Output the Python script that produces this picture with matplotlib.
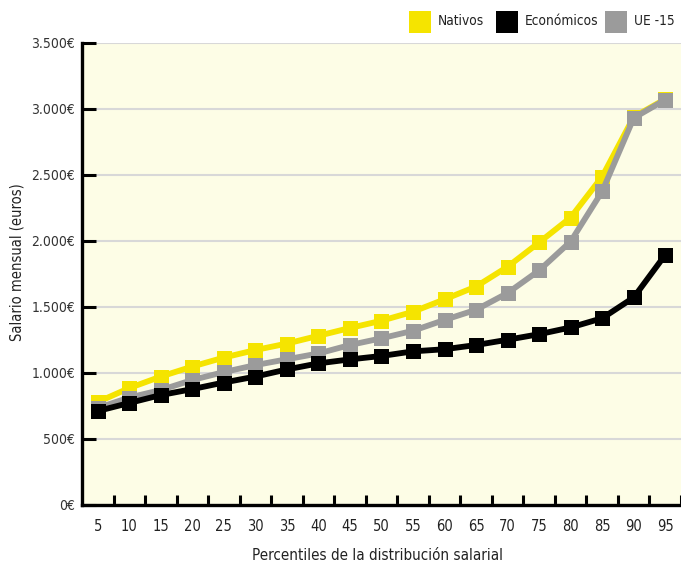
import matplotlib
matplotlib.use("Agg")
import matplotlib.pyplot as plt
from matplotlib.patches import Rectangle
from matplotlib.ticker import FixedLocator, FuncFormatter

plt.rcParams["font.family"] = ["DejaVu Sans"]
plt.rcParams["font.stretch"] = "condensed"

# Monthly salary by percentile of the wage distribution
percentiles = [5, 10, 15, 20, 25, 30, 35, 40, 45, 50, 55, 60, 65, 70, 75, 80, 85, 90, 95]
nativos = [780, 886, 973, 1049, 1117, 1174, 1223, 1282, 1341, 1396, 1464, 1558,
           1655, 1805, 1989, 2178, 2488, 2940, 3075]
ue15 = [735, 814, 871, 947, 1007, 1060, 1104, 1148, 1212, 1263, 1320, 1402,
        1479, 1606, 1777, 1996, 2376, 2932, 3070]
economicos = [712, 773, 833, 878, 928, 973, 1027, 1073, 1103, 1129, 1164, 1180,
              1212, 1252, 1294, 1345, 1415, 1572, 1895]
y_ticks = [0, 500, 1000, 1500, 2000, 2500, 3000, 3500]

YELLOW = "#F5E400"
GREY = "#9B9B9B"
BLACK = "#000000"
BG = "#FDFDE6"

W, H = 681, 567
fig = plt.figure(figsize=(W / 100, H / 100), dpi=100)
ax = fig.add_axes([82 / W, (H - 505) / H, (W - 82) / W, (505 - 43) / H])
ax.set_facecolor(BG)

x = list(range(len(percentiles)))
series = [(nativos, YELLOW, 2), (ue15, GREY, 3), (economicos, BLACK, 4)]
for vals, col, z in series:
    ax.plot(x, vals, color=col, lw=4.2, marker="s", markersize=10.8,
            markeredgewidth=0, zorder=z, solid_joinstyle="miter")

ax.set_xlim(-0.5, len(percentiles) - 0.5)
ax.set_ylim(0, 3500)

# y axis
ax.yaxis.set_major_locator(FixedLocator(y_ticks))
ax.yaxis.set_major_formatter(
    FuncFormatter(lambda v, p: f"{int(v):,}€".replace(",", ".")))
ax.tick_params(axis="y", direction="in", length=10, width=2.2, color="black",
               labelsize=10, labelcolor="#333333", pad=5)
ax.grid(axis="y", color="#D8D8D8", lw=1.5, zorder=0)
ax.set_axisbelow(True)

# x axis: ticks on category boundaries, labels at centres
ax.xaxis.set_major_locator(FixedLocator([i + 0.5 for i in range(len(percentiles))]))
ax.xaxis.set_major_formatter(FuncFormatter(lambda v, p: ""))
ax.xaxis.set_minor_locator(FixedLocator(x))
ax.xaxis.set_minor_formatter(FuncFormatter(lambda v, p: str(percentiles[int(round(v))])))
ax.tick_params(axis="x", which="major", direction="in", length=7, width=2.2, color="black")
ax.tick_params(axis="x", which="minor", length=0, labelsize=10.5,
               labelcolor="#222222", pad=10)

for s in ("top", "right"):
    ax.spines[s].set_visible(False)
for s in ("left", "bottom"):
    ax.spines[s].set_linewidth(2.4)
    ax.spines[s].set_color("black")

fig.text(378 / W, 1 - 556 / H, "Percentiles de la distribución salarial",
         ha="center", va="center", fontsize=10.9, color="#222222")
fig.text(17 / W, 1 - 262 / H, "Salario mensual (euros)", rotation=90,
         ha="center", va="center", fontsize=10.5, color="#222222")

# legend
legend_items = [("Nativos", YELLOW, 409), ("Económicos", BLACK, 496), ("UE -15", GREY, 605)]
for label, col, px in legend_items:
    fig.patches.append(Rectangle((px / W, 1 - 33 / H), 22 / W, 22 / H,
                                 transform=fig.transFigure, facecolor=col,
                                 edgecolor="none"))
    fig.text((px + 29) / W, 1 - 21 / H, label, ha="left", va="center",
             fontsize=9.8, color="#222222")

fig.savefig("out.png", dpi=100, facecolor="white")
